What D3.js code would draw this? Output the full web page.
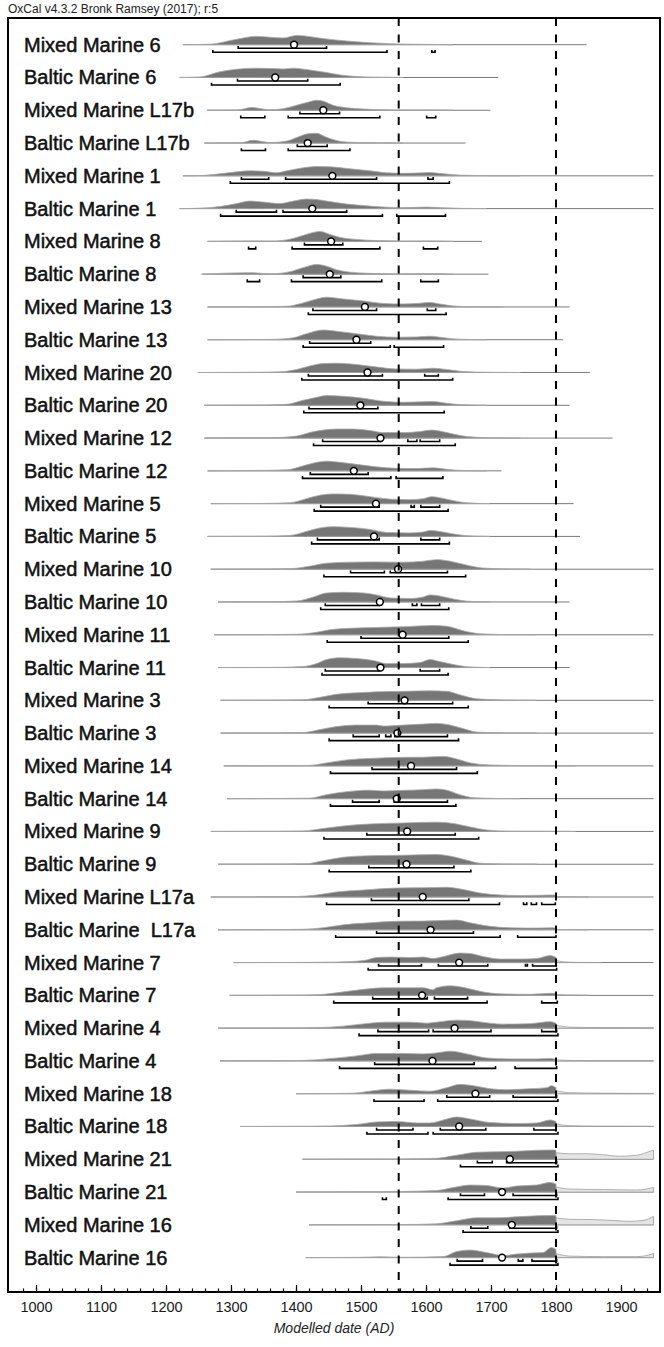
<!DOCTYPE html>
<html lang="en">
<head>
    <meta charset="UTF-8">
    <title>OxCal multiplot - Modelled dates</title>
    <script src="https://d3js.org/d3.v7.min.js"></script>
    <style>
        body { margin: 0; background: #fff; }
        svg { display: block; font-family: "Liberation Sans", Arial, Helvetica, sans-serif; }
    </style>
</head>
<body>
    <svg id="chart"></svg>
    <script>
        var labels = ["Mixed Marine 6", "Baltic Marine 6", "Mixed Marine L17b", "Baltic Marine L17b",
            "Mixed Marine 1", "Baltic Marine 1", "Mixed Marine 8", "Baltic Marine 8",
            "Mixed Marine 13", "Baltic Marine 13", "Mixed Marine 20", "Baltic Marine 20",
            "Mixed Marine 12", "Baltic Marine 12", "Mixed Marine 5", "Baltic Marine 5",
            "Mixed Marine 10", "Baltic Marine 10", "Mixed Marine 11", "Baltic Marine 11",
            "Mixed Marine 3", "Baltic Marine 3", "Mixed Marine 14", "Baltic Marine 14",
            "Mixed Marine 9", "Baltic Marine 9", "Mixed Marine L17a", "Baltic Marine  L17a",
            "Mixed Marine 7", "Baltic Marine 7", "Mixed Marine 4", "Baltic Marine 4",
            "Mixed Marine 18", "Baltic Marine 18", "Mixed Marine 21", "Baltic Marine 21",
            "Mixed Marine 16", "Baltic Marine 16"];

        // extent of each row's thin base line (AD)
        var lineSpan = [[1226,1847],[1221,1711],[1263,1699],[1259,1661],[1226,1950],[1221,1950],
            [1264,1686],[1255,1696],[1264,1821],[1264,1811],[1249,1852],[1259,1821],
            [1259,1887],[1264,1716],[1269,1827],[1264,1837],[1269,1950],[1280,1821],
            [1274,1950],[1280,1821],[1284,1950],[1284,1950],[1289,1950],[1294,1950],
            [1269,1950],[1280,1950],[1269,1950],[1280,1950],[1304,1950],[1298,1950],
            [1280,1950],[1283,1950],[1400,1950],[1314,1950],[1410,1950],[1400,1950],
            [1420,1950],[1415,1950]];

        var medians = [1397,1368,1442,1418,1456,1425,1454,1452,1506,1493,1510,1499,1530,1489,
            1523,1520,1557,1529,1564,1530,1567,1556,1577,1555,1571,1570,1595,1607,1651,1594,
            1644,1610,1676,1651,1729,1717,1732,1717];

        var range68 = [
            [[1311,1447]], [[1310,1418]], [[1406,1467]], [[1402,1448]],
            [[1316,1358],[1384,1524],[1603,1611]], [[1308,1370],[1380,1478]],
            [[1413,1472]], [[1411,1469]], [[1426,1524],[1602,1615]], [[1421,1515]],
            [[1419,1533],[1598,1619]], [[1420,1526]],
            [[1441,1530],[1572,1586],[1591,1621]], [[1422,1511]],
            [[1438,1528],[1577,1582],[1592,1621]], [[1433,1528],[1592,1621]],
            [[1484,1536],[1545,1633]], [[1445,1528],[1579,1586],[1593,1621]],
            [[1500,1635]], [[1445,1528],[1591,1621]],
            [[1511,1641]], [[1488,1528],[1538,1546],[1552,1633]],
            [[1517,1647]], [[1487,1528],[1551,1633]],
            [[1509,1645]], [[1512,1643]], [[1516,1666]], [[1524,1673]],
            [[1527,1593],[1619,1695],[1753,1756],[1764,1800]], [[1518,1602],[1613,1664]],
            [[1526,1604],[1611,1700],[1778,1801]], [[1521,1674]],
            [[1632,1698],[1734,1801]], [[1524,1580],[1622,1692],[1766,1800]],
            [[1679,1702],[1724,1801]], [[1653,1690],[1734,1801]],
            [[1669,1695],[1729,1801]], [[1648,1687],[1742,1749],[1763,1801]]
        ];

        var range95 = [
            [[1272,1540],[1609,1614]], [[1270,1468]],
            [[1315,1352],[1388,1529],[1601,1615]], [[1316,1353],[1388,1483]],
            [[1299,1636]], [[1284,1533],[1555,1630]],
            [[1327,1338],[1394,1529],[1596,1618]], [[1325,1344],[1393,1532],[1592,1619]],
            [[1419,1631]], [[1411,1545],[1551,1627]], [[1409,1641]], [[1412,1628]],
            [[1427,1645]], [[1410,1546],[1554,1626]], [[1428,1634]], [[1424,1636]],
            [[1443,1661]], [[1438,1635]], [[1448,1665]], [[1440,1634]],
            [[1451,1665]], [[1451,1650]], [[1453,1679]], [[1453,1646]],
            [[1443,1681]], [[1451,1669]],
            [[1447,1713],[1750,1755],[1762,1770],[1778,1799]], [[1461,1714],[1741,1800]],
            [[1511,1801]], [[1458,1694],[1778,1802]],
            [[1497,1803]], [[1467,1707],[1737,1801]],
            [[1520,1597],[1618,1803]], [[1509,1603],[1611,1803]],
            [[1653,1803]], [[1533,1539],[1634,1803]],
            [[1657,1803]], [[1637,1803]]
        ];

        // modelled (posterior) probability, [year AD, relative density 0-10]
        var densities = [
            [[1226,0],[1268,0.5],[1305,5],[1339,8.3],[1380,6.7],[1401,9.3],[1447,5.7],[1473,4],[1514,2],[1544,1],[1591,0.4],[1642,0]],
            [[1221,0],[1252,0.5],[1283,5.7],[1309,8.3],[1339,9.3],[1365,9],[1380,8.5],[1396,9.3],[1421,7.5],[1447,5],[1468,2.5],[1493,1],[1524,0.3],[1565,0]],
            [[1263,0],[1310,0.3],[1332,2.7],[1360,0.5],[1380,1.5],[1401,5],[1421,8.5],[1432,10],[1442,9],[1457,5],[1478,2.5],[1504,1.2],[1534,0.5],[1565,0.2],[1611,0.3],[1642,0]],
            [[1259,0],[1315,0.3],[1334,2.7],[1360,0.5],[1386,2],[1401,5.5],[1421,9.5],[1432,9.7],[1444,6.5],[1462,2.5],[1483,0.8],[1514,0.3],[1565,0]],
            [[1226,0],[1260,0.5],[1283,2],[1309,4],[1329,5],[1350,4.5],[1370,3],[1386,5],[1411,8],[1432,9.3],[1452,9],[1483,7],[1514,5],[1539,3],[1565,2.5],[1596,3],[1606,3.3],[1627,2],[1652,0.7],[1693,0.2],[1745,0]],
            [[1221,0],[1255,0.5],[1283,2],[1309,5],[1329,7.5],[1350,6.5],[1375,5],[1396,7.5],[1416,9.5],[1432,9],[1452,7],[1478,4.5],[1504,3],[1534,1.5],[1565,1],[1601,1.5],[1627,0.8],[1657,0.2],[1693,0]],
            [[1264,0],[1334,0.5],[1360,0.3],[1380,1],[1401,4],[1421,8],[1437,10],[1452,7],[1468,4],[1493,2],[1524,0.8],[1565,0.3],[1606,0.5],[1642,0]],
            [[1255,0],[1332,1.5],[1360,0.3],[1391,2.5],[1411,6.5],[1432,9.7],[1447,8],[1462,4.5],[1483,2],[1514,0.8],[1555,0.2],[1606,0.3],[1642,0]],
            [[1264,0],[1340,0.2],[1386,0.7],[1411,4],[1432,8],[1447,9.7],[1473,8],[1504,6],[1534,3.5],[1565,3],[1586,3.5],[1606,4.5],[1621,3],[1642,1],[1668,0.2],[1719,0]],
            [[1264,0],[1360,0.3],[1396,2],[1416,6],[1442,9.7],[1462,8.5],[1493,6],[1524,3.5],[1555,2.5],[1586,2.8],[1606,3.5],[1627,2],[1652,0.5],[1693,0]],
            [[1249,0],[1340,0.3],[1375,0.7],[1401,3],[1421,6.5],[1442,9],[1462,9.3],[1493,8],[1524,5.5],[1555,3.5],[1586,3.3],[1611,4.3],[1632,3],[1657,1],[1693,0.3],[1745,0]],
            [[1259,0],[1350,0.3],[1386,1],[1411,5],[1432,8],[1447,9.7],[1473,9],[1504,7],[1534,4],[1565,3],[1596,3.5],[1611,3.7],[1632,2],[1657,0.5],[1693,0]],
            [[1259,0],[1330,0.2],[1360,0.3],[1401,2],[1421,5.5],[1442,8],[1462,9],[1488,9],[1514,7.5],[1534,5.5],[1565,5.5],[1591,6.5],[1609,8],[1621,7],[1642,4],[1663,1.5],[1693,0.4],[1745,0]],
            [[1264,0],[1324,0.3],[1386,1],[1411,5],[1432,8.5],[1447,9.7],[1468,8.5],[1493,6.5],[1524,4],[1555,2.5],[1586,2.3],[1611,3],[1632,1.5],[1657,0.3],[1693,0]],
            [[1269,0],[1350,0.2],[1391,1],[1416,5],[1437,8.5],[1457,9.7],[1483,9.3],[1514,7],[1545,4.5],[1575,4],[1596,5],[1609,7],[1621,6],[1642,3],[1663,0.8],[1698,0]],
            [[1264,0],[1350,0.2],[1391,1],[1416,5],[1437,8.5],[1457,9.7],[1483,9],[1514,7],[1539,4],[1575,3.5],[1596,4.5],[1606,6],[1621,5],[1642,2.5],[1663,0.7],[1698,0]],
            [[1269,0],[1350,0.2],[1391,0.5],[1421,3],[1447,6],[1483,7],[1524,7.3],[1565,7],[1596,8],[1616,9.5],[1637,8],[1657,5],[1678,2],[1709,0.5],[1760,0]],
            [[1280,0],[1360,0.2],[1401,1],[1427,5],[1447,9],[1473,9.7],[1504,9],[1524,7],[1545,4],[1575,3.5],[1596,5],[1606,7],[1621,6],[1642,3],[1663,0.8],[1698,0]],
            [[1274,0],[1360,0.2],[1401,0.5],[1432,2.5],[1452,5],[1483,6.5],[1524,7.3],[1565,8],[1611,9.3],[1632,8.5],[1657,4],[1683,1],[1719,0.2],[1770,0]],
            [[1280,0],[1370,0.2],[1411,1],[1432,4],[1447,8],[1468,9.7],[1493,9],[1519,7],[1539,4],[1565,4],[1591,5],[1606,8],[1621,6],[1642,3],[1663,0.8],[1698,0]],
            [[1284,0],[1370,0.2],[1411,0.5],[1437,3],[1462,6],[1493,7.5],[1524,8.5],[1565,9],[1606,9.5],[1632,9],[1652,5.5],[1678,1.5],[1719,0.3],[1770,0]],
            [[1284,0],[1370,0.2],[1411,0.5],[1437,3.5],[1462,6.5],[1493,8],[1524,8],[1534,7],[1565,8],[1596,9],[1616,9.7],[1637,8],[1657,4.5],[1678,1],[1719,0.2],[1770,0]],
            [[1289,0],[1380,0.2],[1421,0.5],[1447,3],[1478,6],[1514,7.5],[1555,8.5],[1596,8.7],[1627,9.5],[1647,7],[1668,3],[1698,1],[1745,0.3],[1796,0.2],[1830,0]],
            [[1294,0],[1380,0.2],[1421,0.5],[1447,4],[1478,7],[1514,8.5],[1534,7.7],[1565,8.3],[1596,9],[1616,9.7],[1632,8.5],[1652,4],[1673,1],[1709,0.2],[1745,0]],
            [[1269,0],[1370,0.2],[1411,0.5],[1442,3],[1473,5.5],[1514,7.5],[1565,8.5],[1616,9.3],[1642,8],[1668,4.5],[1693,1.5],[1729,0.3],[1801,0.2],[1830,0]],
            [[1280,0],[1370,0.2],[1416,0.5],[1442,3.5],[1473,7],[1514,8.5],[1565,9],[1616,9.7],[1642,7.5],[1663,4],[1683,1],[1719,0.2],[1770,0]],
            [[1269,0],[1360,0.2],[1401,0.5],[1432,2],[1462,5],[1504,7],[1555,9],[1596,9.3],[1632,9.7],[1657,7.5],[1683,4],[1714,2],[1745,1.5],[1775,1.7],[1796,2],[1804,0.3],[1850,0]],
            [[1280,0],[1370,0.2],[1411,0.5],[1442,2],[1473,5],[1514,7],[1555,8.5],[1596,8.7],[1647,9.7],[1668,7],[1698,3.5],[1729,2],[1760,1.7],[1796,2],[1804,0.3],[1850,0]],
            [[1304,0],[1420,0.2],[1462,0.5],[1504,2],[1524,5],[1545,5.5],[1575,5],[1596,5.5],[1611,4],[1627,6],[1652,9.5],[1668,9],[1688,6],[1714,3.5],[1745,3.5],[1770,4],[1791,7],[1800,5]],
            [[1298,0],[1400,0.2],[1432,0.5],[1462,2.5],[1504,6],[1534,7.5],[1565,7.5],[1596,7.5],[1611,5.5],[1616,7.5],[1637,9.5],[1657,8],[1683,4],[1714,1.5],[1760,1],[1791,2],[1800,2]],
            [[1280,0],[1400,0.2],[1432,0.5],[1473,2],[1514,5],[1539,6],[1575,6],[1601,5],[1616,6],[1647,8],[1668,7.5],[1698,5],[1719,4],[1760,4.5],[1791,6.5],[1800,5]],
            [[1283,0],[1380,0.2],[1411,0.5],[1447,2],[1493,5],[1524,7.5],[1565,7.5],[1596,7],[1616,8],[1637,9.7],[1663,7],[1693,3],[1729,2],[1770,2],[1791,2.5],[1800,1.5]],
            [[1400,0],[1460,0.2],[1488,0.5],[1519,3],[1545,4.5],[1575,3.5],[1606,2.5],[1632,6],[1652,9.3],[1673,8],[1698,5],[1724,4],[1760,5],[1786,6],[1793,8],[1800,6]],
            [[1314,0],[1420,0.2],[1452,0.5],[1493,2],[1524,4.5],[1555,5],[1586,3.5],[1606,3.5],[1627,6.5],[1647,9.5],[1668,7.5],[1698,4],[1739,3],[1770,3.5],[1791,6.5],[1800,5]],
            [[1410,0],[1520,0.2],[1565,0.3],[1616,1],[1647,4],[1678,7],[1709,7.5],[1739,8],[1770,9],[1796,9.3],[1800,9]],
            [[1400,0],[1500,0.2],[1555,0.5],[1616,1.5],[1642,4.5],[1668,7],[1693,6.5],[1719,4],[1739,6],[1770,7],[1791,9.5],[1800,8]],
            [[1420,0],[1520,0.2],[1565,0.3],[1616,1],[1647,4],[1678,7],[1709,7],[1739,8],[1770,9],[1796,9.3],[1800,9]],
            [[1415,0],[1500,0.3],[1529,0.8],[1565,0.3],[1627,1],[1647,6],[1668,7.5],[1693,5],[1719,2],[1739,3.5],[1760,4.5],[1780,5],[1793,10],[1800,8]]
        ];

        // unmodelled part beyond the end boundary, by row index
        var priorTails = {
            28: [[1800,2],[1811,0.8],[1830,0.2],[1870,0]],
            29: [[1800,0.8],[1820,0.3],[1850,0]],
            30: [[1800,3],[1821,1],[1873,0.5],[1950,0.3]],
            31: [[1800,1],[1830,0.4],[1900,0.3],[1950,0.2]],
            32: [[1800,3],[1821,1],[1873,0.5],[1950,0.3]],
            33: [[1800,2.5],[1821,0.8],[1873,0.3],[1950,0.2]],
            34: [[1800,6.5],[1821,5.5],[1847,5.5],[1873,4.5],[1898,3],[1924,4],[1945,8],[1950,9]],
            35: [[1800,5],[1821,3],[1873,2.5],[1924,2],[1950,4.5]],
            36: [[1800,7],[1821,5.5],[1852,5.3],[1883,4.5],[1914,3.5],[1935,4.5],[1950,8.5]],
            37: [[1800,4],[1821,1.5],[1873,1],[1924,1],[1945,3],[1950,4.5]]
        };

        var boundaries = [1558, 1800];
        var majorTicks = [1000, 1100, 1200, 1300, 1400, 1500, 1600, 1700, 1800, 1900];

        var W = 664, H = 1347;
        var frame = { left: 8, right: 660, top: 18, bottom: 1292 };

        var svg = d3.select("#chart").attr("width", W).attr("height", H);

        var x = d3.scaleLinear().domain([1000, 1900]).range([36, 621]);
        var y = d3.scalePoint().domain(d3.range(labels.length)).range([44.7, 1257.6]);
        var h = d3.scaleLinear().domain([0, 10]).range([0, -10]);

        var area = d3.area()
            .x(function(d) { return x(d[0]); })
            .y0(0)
            .y1(function(d) { return h(d[1]); })
            .curve(d3.curveMonotoneX);

        svg.append("text")
            .attr("x", 8).attr("y", 13)
            .attr("font-size", "12px")
            .attr("fill", "#222")
            .text("OxCal v4.3.2 Bronk Ramsey (2017); r:5");

        var rows = svg.append("g").selectAll("g")
            .data(labels)
            .enter().append("g")
            .attr("transform", function(d, i) { return "translate(0," + y(i) + ")"; });

        rows.append("text")
            .attr("x", 24).attr("y", 7)
            .attr("font-size", "20px")
            .attr("fill", "#111")
            .attr("stroke", "#111")
            .attr("stroke-width", 0.5)
            .style("white-space", "pre")
            .text(function(d) { return d; });

        rows.each(function(d, i) {
            var g = d3.select(this);

            g.append("line")
                .attr("x1", x(lineSpan[i][0])).attr("x2", x(lineSpan[i][1]))
                .attr("y1", 0).attr("y2", 0)
                .attr("stroke", "#7a7a7a")
                .attr("stroke-width", 1);

            if (priorTails[i]) {
                g.append("path")
                    .datum(priorTails[i])
                    .attr("d", area)
                    .attr("fill", "#e4e4e4")
                    .attr("stroke", "#a0a0a0")
                    .attr("stroke-width", 0.8);
            }

            g.append("path")
                .datum(densities[i])
                .attr("d", area)
                .attr("fill", "#767676")
                .attr("stroke", "#a8a8a8")
                .attr("stroke-width", 0.8);

            function bracket(r, yy) {
                return "M" + x(r[0]) + "," + (yy - 2.3) + "V" + yy + "H" + x(r[1]) + "V" + (yy - 2.3);
            }

            g.selectAll(".r68")
                .data(range68[i])
                .enter().append("path")
                .attr("d", function(r) { return bracket(r, 3.5); })
                .attr("fill", "none")
                .attr("stroke", "#000")
                .attr("stroke-width", 1.6);

            g.selectAll(".r95")
                .data(range95[i])
                .enter().append("path")
                .attr("d", function(r) { return bracket(r, 7.5); })
                .attr("fill", "none")
                .attr("stroke", "#000")
                .attr("stroke-width", 1.6);

            g.append("circle")
                .attr("cx", x(medians[i]))
                .attr("cy", 0)
                .attr("r", 3.4)
                .attr("fill", "#fff")
                .attr("stroke", "#000")
                .attr("stroke-width", 1.5);
        });

        // boundary lines
        svg.selectAll(".boundary")
            .data(boundaries)
            .enter().append("line")
            .attr("x1", function(d) { return x(d); })
            .attr("x2", function(d) { return x(d); })
            .attr("y1", frame.top)
            .attr("y2", frame.bottom)
            .attr("stroke", "#000")
            .attr("stroke-width", 2)
            .attr("stroke-dasharray", "8,8.5");

        // axis: ticks point up inside the frame
        var minor = svg.append("g")
            .attr("transform", "translate(0," + frame.bottom + ")")
            .call(d3.axisBottom(x).tickValues(d3.range(980, 1960, 20)).tickSize(-3.5).tickFormat(""));
        minor.select(".domain").remove();

        var major = svg.append("g")
            .attr("transform", "translate(0," + frame.bottom + ")")
            .call(d3.axisBottom(x).tickValues(majorTicks).tickSize(-7).tickPadding(10).tickFormat(d3.format("d")));
        major.select(".domain").remove();
        major.selectAll("text")
            .attr("font-size", "14.5px")
            .attr("font-family", "\"Liberation Sans\", Arial, sans-serif")
            .attr("fill", "#1a1a1a");
        svg.selectAll(".tick line").attr("stroke", "#000").attr("stroke-width", 1.2);

        svg.append("rect")
            .attr("x", frame.left).attr("y", frame.top)
            .attr("width", frame.right - frame.left)
            .attr("height", frame.bottom - frame.top)
            .attr("fill", "none")
            .attr("stroke", "#000")
            .attr("stroke-width", 2);

        svg.append("text")
            .attr("x", (frame.left + frame.right) / 2)
            .attr("y", 1333)
            .attr("text-anchor", "middle")
            .attr("font-size", "14px")
            .attr("font-style", "italic")
            .attr("fill", "#222")
            .text("Modelled date (AD)");
    </script>
</body>
</html>
